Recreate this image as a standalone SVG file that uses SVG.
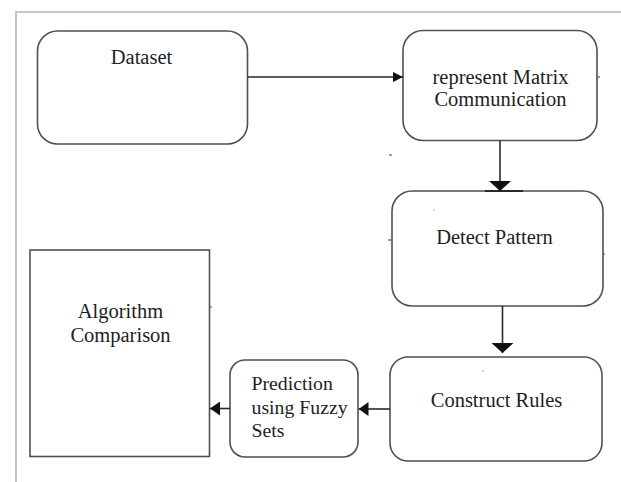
<svg xmlns="http://www.w3.org/2000/svg" width="621" height="482" viewBox="0 0 621 482">
  <style>
    .box { fill: #ffffff; stroke: #505050; stroke-width: 1.6; }
    .lbl { font-family: "Liberation Serif", "Times New Roman", serif; font-size: 20.5px; fill: #1e1e1e; }
    .sm { font-size: 19.8px; }
    .mid { text-anchor: middle; }
    .edge { stroke: #2a2a2a; stroke-width: 1.6; fill: none; }
    .frame { stroke: #b4b4b4; stroke-width: 1.6; fill: none; }
    .speck { stroke: #555555; stroke-width: 1.2; }
  </style>
  <defs>
    <marker id="arrowSmall" viewBox="0 0 10 10" refX="10" refY="5" markerWidth="10" markerHeight="10" markerUnits="userSpaceOnUse" orient="auto">
      <path d="M0,0 L10,5 L0,10 Z" fill="#111111"/>
    </marker>
    <marker id="arrowSide" viewBox="0 0 10 14" refX="10" refY="7" markerWidth="10" markerHeight="14" markerUnits="userSpaceOnUse" orient="auto">
      <path d="M0,0 L10,7 L0,14 Z" fill="#111111"/>
    </marker>
    <marker id="arrowDown" viewBox="0 0 10 22" refX="10" refY="11" markerWidth="10" markerHeight="22" markerUnits="userSpaceOnUse" orient="auto">
      <path d="M0,0 L10,11 L0,22 Z" fill="#111111"/>
    </marker>
  </defs>

  <!-- page frame -->
  <path class="frame" d="M16,482 L16,12 L621,12"/>

  <g id="node-dataset">
    <rect class="box" x="37.5" y="31" width="210" height="113" rx="20"/>
    <text class="lbl mid" x="141.5" y="63.5">Dataset</text>
  </g>

  <g id="node-matrix">
    <rect class="box" x="403" y="30.5" width="194" height="110" rx="20"/>
    <text class="lbl mid" x="500.5" y="84">represent Matrix</text>
    <text class="lbl mid" x="500.5" y="106">Communication</text>
    <line class="speck" x1="597" y1="77" x2="600" y2="77"/>
  </g>

  <g id="node-detect">
    <rect class="box" x="392" y="191" width="211" height="115" rx="20"/>
    <text class="lbl mid" x="494.5" y="244">Detect Pattern</text>
    <line x1="485" y1="191" x2="523" y2="191" stroke="#2a2a2a" stroke-width="2.2"/>
    <line class="speck" x1="388" y1="240" x2="391" y2="240"/>
    <line class="speck" x1="603" y1="254" x2="605" y2="254"/>
  </g>

  <g id="node-rules">
    <rect class="box" x="390" y="357" width="212" height="104" rx="18"/>
    <text class="lbl mid" x="496.5" y="407">Construct Rules</text>
  </g>

  <g id="node-prediction">
    <rect class="box" x="230" y="360" width="128" height="97" rx="15"/>
    <text class="lbl sm" x="251.5" y="390">Prediction</text>
    <text class="lbl sm" x="251.5" y="414">using Fuzzy</text>
    <text class="lbl sm" x="251.5" y="437">Sets</text>
  </g>

  <g id="node-algorithm">
    <rect class="box" x="30" y="250" width="179.5" height="206.5"/>
    <text class="lbl mid" x="120.5" y="318">Algorithm</text>
    <text class="lbl mid" x="120.5" y="342">Comparison</text>
    <line class="speck" x1="210" y1="307" x2="212" y2="307"/>
  </g>

  <!-- stray marks -->
  <g id="specks">
    <line class="speck" x1="389" y1="155" x2="392" y2="155"/>
    <circle cx="434" cy="210" r="0.6" fill="#777777"/>
    <circle cx="483" cy="371" r="0.7" fill="#777777"/>
  </g>

  <g id="connectors">
    <line class="edge" x1="247.5" y1="77" x2="403" y2="77" marker-end="url(#arrowSmall)"/>
    <line class="edge" x1="500" y1="141" x2="500" y2="191" marker-end="url(#arrowDown)"/>
    <line class="edge" x1="502.5" y1="306" x2="502.5" y2="353" marker-end="url(#arrowDown)"/>
    <line class="edge" x1="390" y1="409" x2="358.5" y2="409" marker-end="url(#arrowSide)"/>
    <line class="edge" x1="230" y1="408.5" x2="210" y2="408.5" marker-end="url(#arrowSide)"/>
  </g>
</svg>
